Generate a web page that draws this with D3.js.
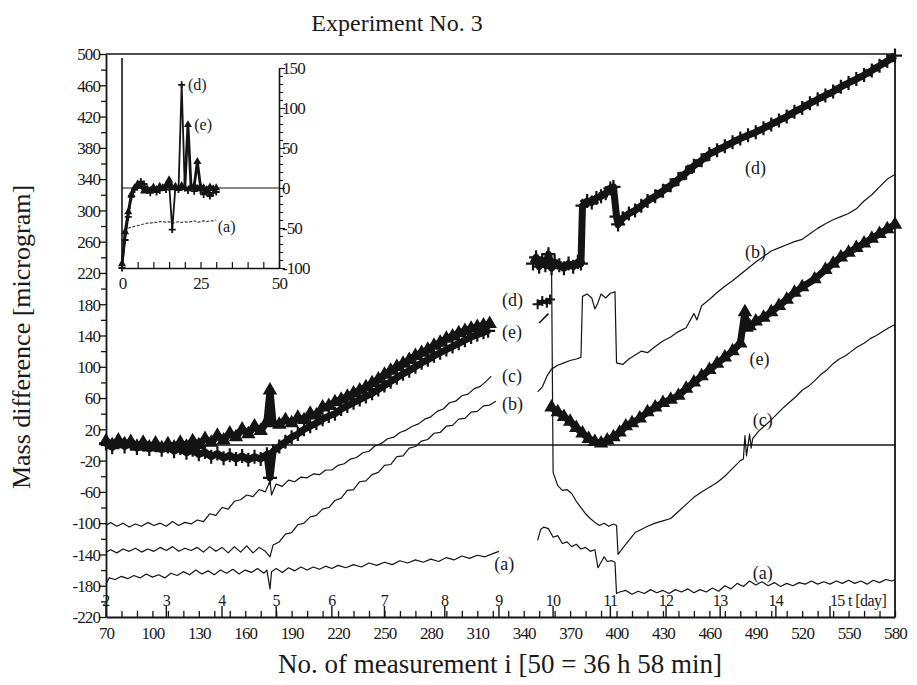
<!DOCTYPE html>
<html><head><meta charset="utf-8">
<script src="https://cdn.jsdelivr.net/npm/d3@7"></script>
<style>
body{margin:0;background:#fff;}
svg{display:block;}
</style></head>
<body>
<svg id="chart" width="917" height="685" font-family="'Liberation Serif','Times New Roman',serif"></svg>
<script>
// ---------------- DATA ----------------
const title = "Experiment No. 3";
const xTitle = "No. of measurement i [50 = 36 h 58 min]";
const yTitle = "Mass difference [microgram]";
const xTickLabels = [70,100,130,160,190,220,250,280,310,340,370,400,430,460,490,520,550,580];
const yTickLabels = [500,460,420,380,340,300,260,220,180,140,100,60,20,-20,-60,-100,-140,-180,-220];
const dayTickI = [70,109,145,180,216,250,289,324,359,396,432,467,503,538];
const dayLabels = ["2","3","4","5","6","7","8","9","10","11","12","13","14","15 t [day]"];

// series (a)
const seriesA1 = [[70,-178],[72,-170],[76,-172],[80,-168],[84,-171],[88,-167],[92,-170],[96,-165],[100,-169],[104,-166],[108,-170],[112,-164],[116,-167],[120,-162],[124,-166],[128,-160],[132,-165],[136,-161],[140,-166],[144,-160],[148,-164],[152,-159],[156,-165],[160,-160],[164,-163],[168,-158],[172,-164],[174,-160],[176,-184],[177,-162],[180,-158],[184,-163],[188,-157],[192,-161],[196,-156],[200,-160],[204,-156],[208,-159],[212,-155],[216,-158],[220,-154],[225,-157],[230,-153],[235,-156],[240,-151],[245,-154],[250,-150],[255,-153],[260,-148],[265,-151],[270,-147],[275,-150],[280,-146],[285,-149],[290,-144],[295,-147],[300,-142],[305,-145],[310,-141],[315,-143],[320,-139],[324,-136]];
const seriesA2 = [[349,-122],[351,-108],[353,-105],[356,-107],[359,-118],[362,-116],[365,-126],[368,-124],[371,-130],[374,-127],[377,-133],[380,-131],[383,-136],[386,-134],[388,-157],[390,-150],[392,-143],[394,-149],[397,-148],[399,-150],[400,-190],[402,-188],[406,-186],[410,-191],[414,-187],[418,-190],[422,-185],[426,-189],[430,-186],[434,-190],[438,-185],[442,-188],[446,-184],[450,-189],[454,-185],[458,-188],[462,-183],[466,-187],[470,-180],[474,-184],[478,-177],[482,-181],[486,-174],[490,-179],[494,-175],[498,-180],[502,-176],[506,-181],[510,-177],[514,-180],[518,-176],[522,-178],[526,-174],[530,-178],[534,-175],[538,-178],[542,-174],[546,-177],[550,-173],[554,-177],[558,-174],[562,-178],[566,-173],[570,-176],[574,-172],[578,-174],[580,-172]];
// series (b)
const seriesB1 = [[70,-137],[73,-134],[77,-138],[81,-133],[85,-136],[89,-132],[93,-137],[97,-133],[101,-136],[105,-131],[109,-135],[113,-130],[117,-136],[121,-132],[125,-135],[129,-131],[133,-137],[137,-130],[141,-136],[145,-131],[149,-138],[153,-130],[157,-137],[161,-129],[165,-138],[169,-131],[173,-136],[176,-143],[178,-128],[182,-124],[186,-114],[190,-112],[194,-102],[198,-100],[202,-92],[206,-90],[210,-82],[214,-80],[218,-71],[222,-68],[226,-58],[230,-57],[234,-47],[238,-46],[242,-38],[246,-35],[250,-26],[254,-25],[258,-15],[262,-14],[266,-4],[270,-2],[274,5],[278,7],[282,15],[286,16],[290,24],[294,25],[298,33],[302,34],[306,42],[310,43],[314,50],[318,51],[322,56]];
const seriesB2 = [[349,68],[352,74],[355,88],[358,97],[362,102],[366,105],[370,108],[374,110],[377,112],[378,190],[381,193],[384,188],[386,174],[388,182],[390,193],[393,188],[396,194],[399,196],[400,105],[404,103],[408,110],[412,115],[416,120],[420,118],[425,126],[430,133],[435,138],[440,145],[445,150],[450,168],[452,160],[455,178],[460,186],[465,195],[470,203],[475,210],[480,218],[485,226],[490,234],[495,241],[500,248],[505,252],[510,256],[515,260],[520,263],[525,270],[530,277],[535,283],[540,288],[545,292],[550,296],[555,302],[560,312],[565,320],[570,330],[575,340],[580,346]];
// series (c)
const seriesC1 = [[70,-103],[73,-99],[77,-104],[81,-100],[85,-105],[89,-101],[93,-104],[97,-99],[101,-103],[105,-100],[109,-104],[113,-98],[117,-103],[121,-99],[125,-101],[129,-96],[133,-98],[137,-88],[141,-90],[145,-80],[149,-82],[153,-72],[157,-70],[161,-64],[165,-66],[169,-57],[173,-60],[176,-46],[177,-64],[180,-50],[184,-53],[188,-45],[192,-47],[196,-41],[200,-42],[204,-37],[208,-38],[212,-32],[216,-32],[220,-26],[224,-24],[228,-18],[232,-16],[236,-10],[240,-8],[244,-1],[248,2],[252,8],[256,10],[260,16],[264,19],[268,24],[272,27],[276,33],[280,36],[284,43],[288,46],[292,54],[296,56],[300,63],[304,65],[308,72],[312,75],[316,82],[319,88]];
const seriesC2 = [[358,228],[359,-35],[362,-52],[365,-58],[368,-57],[371,-62],[374,-72],[377,-80],[380,-88],[383,-94],[386,-99],[389,-103],[392,-100],[395,-104],[398,-101],[400,-103],[401,-140],[404,-132],[408,-122],[412,-112],[416,-108],[420,-104],[425,-100],[430,-97],[435,-94],[440,-85],[445,-76],[450,-67],[455,-60],[460,-54],[465,-48],[470,-40],[475,-30],[480,-20],[482,-18],[483,12],[484,-14],[486,14],[487,-4],[488,8],[492,18],[496,25],[500,32],[504,40],[508,48],[512,55],[516,62],[520,70],[524,75],[528,82],[532,90],[536,96],[540,104],[544,110],[548,114],[552,120],[556,126],[560,130],[564,136],[568,140],[572,145],[576,150],[580,154]];
// series (d)
const seriesD1 = [[70,2],[74,-3],[78,4],[82,-2],[86,3],[90,-4],[94,1],[98,-5],[102,0],[106,-6],[110,-2],[114,-8],[118,-4],[122,-10],[126,-6],[130,-12],[134,-9],[138,-15],[142,-11],[146,-17],[150,-13],[154,-18],[158,-14],[162,-19],[166,-15],[170,-18],[174,-12],[176,-42],[178,-8],[182,-2],[186,4],[190,10],[194,14],[198,20],[202,24],[206,28],[210,33],[214,37],[218,40],[222,46],[226,50],[230,54],[234,58],[238,62],[242,66],[246,71],[250,76],[254,81],[258,86],[262,91],[266,95],[270,100],[274,105],[278,109],[282,114],[286,118],[290,122],[294,126],[298,130],[302,134],[306,138],[310,141],[314,144],[317,146]];
const seriesD2 = [[349,180],[352,184],[355,182],[357,186]];
const seriesD3 = [[346,232],[348,240],[350,228],[352,236],[354,230],[356,244],[358,226],[360,234],[363,230],[366,226],[369,232],[372,228],[375,234],[377,232],[378,306],[381,312],[384,310],[387,316],[390,318],[393,322],[396,328],[398,330],[400,292],[401,282],[404,290],[408,296],[412,300],[416,306],[420,312],[425,318],[430,325],[435,332],[440,340],[445,348],[450,357],[455,364],[460,372],[465,377],[470,382],[475,387],[480,392],[485,396],[490,400],[495,405],[500,410],[505,415],[510,420],[515,426],[520,431],[525,437],[530,442],[535,447],[540,452],[545,458],[550,463],[555,468],[560,473],[565,479],[570,485],[575,491],[580,498]];
// series (e)
const seriesE1 = [[70,5],[74,0],[78,6],[82,1],[86,4],[90,-2],[94,3],[98,-3],[102,2],[106,-4],[110,1],[114,-3],[118,3],[122,-2],[126,5],[130,0],[134,8],[138,3],[142,12],[146,6],[150,15],[154,10],[158,20],[162,14],[166,24],[170,18],[174,30],[176,70],[178,28],[182,26],[186,32],[190,28],[194,35],[198,32],[202,40],[206,38],[210,48],[214,50],[218,55],[222,58],[226,62],[230,66],[234,70],[238,74],[242,79],[246,84],[250,90],[254,95],[258,100],[262,104],[266,109],[270,114],[274,118],[278,122],[282,127],[286,131],[290,136],[294,139],[298,143],[302,146],[306,149],[310,151],[314,153],[318,155]];
const seriesE2 = [[350,156],[353,162],[356,168]];
const seriesE3 = [[358,48],[362,42],[366,36],[370,30],[374,22],[378,15],[382,8],[386,4],[390,2],[394,6],[398,10],[402,16],[406,24],[410,28],[415,34],[420,42],[425,48],[430,54],[435,58],[440,63],[445,72],[450,80],[455,88],[460,96],[465,104],[470,112],[475,120],[480,130],[483,170],[484,150],[486,152],[490,158],[495,163],[500,170],[505,178],[510,186],[515,195],[520,202],[528,212],[535,224],[540,232],[545,240],[550,246],[555,252],[560,258],[565,264],[570,270],[575,276],[580,282]];

// inset
const insetXTicks = [0,25,50];
const insetYTicks = [150,100,50,0,-50,-100];
const insetD = [[0,-100],[1,-65],[2,-36],[3,-11],[4,-2],[5,3],[6,8],[7,5],[8,-3],[9,-6],[10,-1],[11,-5],[12,-3],[13,1],[14,-2],[15,6],[16,-52],[17,1],[18,-2],[19,129],[20,0],[21,-3],[22,2],[23,-4],[24,0],[25,-3],[26,-8],[27,-5],[28,-10],[29,-6],[30,-5]];
const insetE = [[0,-95],[1,-55],[2,-30],[3,-8],[4,0],[5,5],[6,2],[7,-4],[8,-1],[9,-3],[10,1],[11,-2],[12,2],[13,-1],[14,3],[15,10],[16,0],[17,2],[18,-1],[19,3],[20,0],[21,79],[22,1],[23,3],[24,33],[25,2],[26,0],[27,-2],[28,1],[29,-1],[30,0]];
const insetA = [[0,-58],[1,-52],[2,-50],[3,-49],[4,-48],[5,-47],[6,-46],[7,-45],[8,-44],[9,-44],[10,-43],[11,-43],[12,-42],[13,-42],[14,-43],[15,-42],[16,-44],[17,-43],[18,-42],[19,-43],[20,-42],[21,-43],[22,-42],[23,-41],[24,-43],[25,-42],[26,-41],[27,-42],[28,-41],[29,-41],[30,-40]];

// labels [text, i, value]
const mainLabels = [["(d)",326,186],["(e)",326,145],["(c)",326,88],["(b)",326,53],["(a)",321,-152],
  ["(d)",483,355],["(b)",483,247],["(e)",486,110],["(c)",488,32],["(a)",488,-164]];
const insetLabels = [["(d)",21,129],["(e)",23,79],["(a)",30.5,-48]];

// ---------------- DRAW ----------------
const FONT = "'Liberation Serif','Times New Roman',serif";
const svg = d3.select("#chart");
const ink = "#141414";
const x = d3.scaleLinear().domain([70,580]).range([106,895]);
const y = d3.scaleLinear().domain([-220,500]).range([617,54]);
function txt(g){ return g.append("text").attr("font-family",FONT).attr("fill","#1a1a1a"); }

// frame
svg.append("line").attr("x1",x(70)).attr("x2",x(580)).attr("y1",y(500)).attr("y2",y(500)).attr("stroke",ink).attr("stroke-width",1.6);
svg.append("line").attr("x1",x(580)).attr("x2",x(580)).attr("y1",y(500)).attr("y2",y(-220)).attr("stroke",ink).attr("stroke-width",1.8);
svg.append("line").attr("x1",x(70)).attr("x2",x(580)).attr("y1",y(0)).attr("y2",y(0)).attr("stroke",ink).attr("stroke-width",1.4);

// y axis
const yAx = d3.axisLeft(y).tickValues(d3.range(-220,501,20)).tickSize(0).tickFormat("");
const gy = svg.append("g").attr("transform",`translate(${x(70)},0)`).call(yAx).attr("font-family",FONT);
gy.select(".domain").attr("stroke",ink).attr("stroke-width",1.8);
gy.selectAll(".tick").append("line").attr("x1",0).attr("x2",d=> yTickLabels.includes(d)? -7 : -5).attr("stroke",ink).attr("stroke-width",1.3);
gy.selectAll(".tick").filter(d=>yTickLabels.includes(d)).append("text").attr("font-family",FONT).attr("fill","#1a1a1a")
  .attr("x",-6).attr("dy","0.34em").attr("text-anchor","end").attr("font-size",17).attr("letter-spacing","-0.9")
  .text(d=>d);

// x axis
const xAx = d3.axisBottom(x).tickValues(d3.range(70,581,10)).tickSize(0).tickFormat("");
const gx = svg.append("g").attr("transform",`translate(0,${y(-220)})`).call(xAx).attr("font-family",FONT);
gx.select(".domain").attr("stroke",ink).attr("stroke-width",1.8);
gx.selectAll(".tick").append("line").attr("y1",0).attr("y2",-6).attr("stroke",ink).attr("stroke-width",1.3);
gx.selectAll(".tick").filter(d=>xTickLabels.includes(d)).append("text").attr("font-family",FONT).attr("fill","#1a1a1a")
  .attr("y",22).attr("text-anchor","middle").attr("font-size",17).attr("letter-spacing","-0.9").text(d=>d);
// day ticks
const gd = svg.append("g");
dayTickI.forEach((di,k)=>{
  gd.append("line").attr("x1",x(di)).attr("x2",x(di)).attr("y1",y(-220)).attr("y2",y(-220)-11).attr("stroke",ink).attr("stroke-width",1.4);
  txt(gd).attr("x",x(di)+(k===dayLabels.length-1?28:0)).attr("y",y(-220)-11).attr("text-anchor","middle")
    .attr("font-size",16).attr("letter-spacing","-0.6").text(dayLabels[k]);
});

// titles
txt(svg).attr("x",397).attr("y",31).attr("text-anchor","middle").attr("font-size",24).text(title);
txt(svg).attr("x",500).attr("y",673).attr("text-anchor","middle").attr("font-size",27).text(xTitle);
txt(svg).attr("transform","translate(30,337) rotate(-90)").attr("text-anchor","middle").attr("font-size",26).text(yTitle);

// lines
const line = d3.line().x(d=>x(d[0])).y(d=>y(d[1]));
function thin(data, w){
  svg.append("path").datum(data).attr("d",line).attr("fill","none").attr("stroke",ink).attr("stroke-width",w||1.2).attr("stroke-linejoin","round");
}
[seriesA1,seriesA2,seriesB1,seriesB2,seriesC1,seriesC2].forEach(s=>thin(s));
thin(seriesE2,1.6);

function plusMarks(g,data,sx,sy,s,w){
  g.selectAll(null).data(data).enter().append("path")
    .attr("d",d=>`M${sx(d[0])-s},${sy(d[1])}h${2*s}M${sx(d[0])},${sy(d[1])-s}v${2*s}`)
    .attr("stroke",ink).attr("stroke-width",w).attr("fill","none");
}
function triMarks(g,data,sx,sy,size){
  g.selectAll(null).data(data).enter().append("path")
    .attr("d",d3.symbol(d3.symbolTriangle,size))
    .attr("transform",d=>`translate(${sx(d[0])},${sy(d[1])})`).attr("fill",ink);
}
const gm = svg.append("g");
[seriesD1,seriesD3].forEach(s=>{
  gm.append("path").datum(s).attr("d",line).attr("fill","none").attr("stroke",ink).attr("stroke-width",7).attr("stroke-linejoin","round");
  plusMarks(gm,s,x,y,7,2.2);
});
gm.append("path").datum(seriesD2).attr("d",line).attr("fill","none").attr("stroke",ink).attr("stroke-width",4);
plusMarks(gm,seriesD2,x,y,5,2);
[seriesE1,seriesE3].forEach(s=>{
  gm.append("path").datum(s).attr("d",line).attr("fill","none").attr("stroke",ink).attr("stroke-width",7).attr("stroke-linejoin","round");
  triMarks(gm,s,x,y,90);
});

// main labels
svg.selectAll(null).data(mainLabels).enter().append("text").attr("font-family",FONT).attr("fill","#1a1a1a")
  .attr("x",d=>x(d[1])).attr("y",d=>y(d[2])).attr("dy","0.34em").attr("font-size",18).text(d=>d[0]);

// ---------------- INSET ----------------
const xi = d3.scaleLinear().domain([0,50]).range([122,279]);
const yi = d3.scaleLinear().domain([-100,150]).range([268,68]);
const gi = svg.append("g");
gi.append("line").attr("x1",xi(0)).attr("x2",xi(0)).attr("y1",yi(-100)).attr("y2",58).attr("stroke",ink).attr("stroke-width",1.6);
gi.append("line").attr("x1",xi(0)).attr("x2",xi(50)).attr("y1",yi(0)).attr("y2",yi(0)).attr("stroke",ink).attr("stroke-width",1.2);
const gix = gi.append("g").attr("transform",`translate(0,${yi(-100)})`)
  .call(d3.axisBottom(xi).tickValues(d3.range(0,51,5)).tickSize(0).tickFormat(""));
gix.select(".domain").attr("stroke",ink).attr("stroke-width",1.6);
gix.selectAll(".tick").append("line").attr("y1",0).attr("y2",-6).attr("stroke",ink).attr("stroke-width",1.2);
gix.selectAll(".tick").filter(d=>insetXTicks.includes(d)).append("text").attr("font-family",FONT).attr("fill","#1a1a1a")
  .attr("y",21).attr("text-anchor","middle").attr("font-size",17).attr("letter-spacing","-0.8").text(d=>d);
const giy = gi.append("g").attr("transform",`translate(${xi(50)},0)`)
  .call(d3.axisRight(yi).tickValues(d3.range(-100,151,10)).tickSize(0).tickFormat(""));
giy.select(".domain").attr("stroke",ink).attr("stroke-width",1.6);
giy.selectAll(".tick").append("line").attr("x1",0).attr("x2",d=>insetYTicks.includes(d)?6:4).attr("stroke",ink).attr("stroke-width",1.1);
giy.selectAll(".tick").filter(d=>insetYTicks.includes(d)).append("text").attr("font-family",FONT).attr("fill","#1a1a1a")
  .attr("x",3).attr("dy","0.34em").attr("font-size",17).attr("letter-spacing","-0.9").text(d=>d);

const lineI = d3.line().x(d=>xi(d[0])).y(d=>yi(d[1]));
gi.append("path").datum(insetA).attr("d",lineI).attr("fill","none").attr("stroke","#444").attr("stroke-width",1.2).attr("stroke-dasharray","3,1.5");
gi.append("path").datum(insetD).attr("d",lineI).attr("fill","none").attr("stroke",ink).attr("stroke-width",1.8);
gi.append("path").datum(insetE).attr("d",lineI).attr("fill","none").attr("stroke",ink).attr("stroke-width",2.8);
plusMarks(gi,insetD,xi,yi,3.5,1.8);
triMarks(gi,insetE,xi,yi,28);
gi.selectAll(null).data(insetLabels).enter().append("text").attr("font-family",FONT).attr("fill","#1a1a1a")
  .attr("x",d=>xi(d[1])).attr("y",d=>yi(d[2])).attr("dy","0.34em").attr("font-size",16).text(d=>d[0]);
</script>
</body></html>
